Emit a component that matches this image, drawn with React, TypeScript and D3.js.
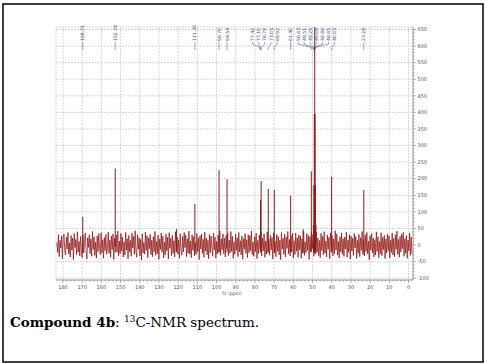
import React from "react";
import * as d3 from "d3";

// ---- data ----
const xTicks = d3.range(180, -1, -10);
const yTicks = d3.range(-100, 651, 50);

// peak positions (ppm) and intensities
const peakPpm = [169.71, 152.78, 120.9, 111.3, 98.7, 94.54, 77.1, 76.78, 73.05, 69.92, 61.4, 54.9, 50.63, 49.51, 49.29, 49.08, 48.86, 48.65, 48.43, 48.22, 40.05, 23.28];
const peakHeight = [85, 231, 48, 124, 226, 198, 136, 193, 169, 166, 149, 48, 222, 60, 180, 395, 690, 395, 180, 60, 206, 166];

// peak labels (ppm)
const labelValues = ["169.71", "152.78", "111.30", "98.70", "94.54", "77.42", "77.10", "76.78", "73.05", "69.92", "61.40", "50.63", "49.51", "49.29", "49.08", "48.86", "48.65", "40.05", "23.28"];

// baseline noise, evenly spread across the spectral width
const noise = [
  8, -22, 31, -35, 14, -9, 27, -41, 19, 33, -18, -30, 24, -12, 38, -27, 6, -36, 29, -15, 21, -44, 35, -8, 17, -29, 40, -21, 11, -33,
  26, -16, -38, 30, -24, 13, 36, -19, -42, 22, -7, 31, -26, 18, -34, 41, -13, 25, -31, 9, -39, 28, -20, 34, -11, -29, 37, -23, 16, -40,
  23, -17, 32, -28, -10, 39, -25, 15, -37, 27, -14, 33, -43, 20, -6, 30, -22, 42, -32, 12, -26, 35, -18, 24, -36, 10, -30, 38, -15, 19,
  -41, 29, -21, 14, -34, 36, -9, 26, -28, 43, -19, -37, 31, -12, 22, -33, 17, -45, 34, -24, 8, -27, 39, -16, 28, -38, 21, -11, 32, -29,
  15, -35, 25, -20, 41, -31, 11, -26, 30, -43, 18, -13, 36, -22, 27, -39, 9, -30, 33, -17, 23, -42, 37, -10, 20, -32, 29, -25, 13, -36,
  40, -19, 24, -28, 16, -40, 34, -14, -31, 26, -21, 38, -8, 30, -35, 19, -24, 42, -27, 12, -38, 31, -16, 25, -33, 7, -29, 35, -20, 22,
  -44, 28, -12, 33, -25, 17, -37, 39, -18, 21, -30, 14, -41, 32, -23, 27, -9, -34, 36, -15, 24, -39, 11, -27, 30, -22, 43, -31, 18, -14,
  34, -26, 20, -36, 29, -11, 37, -32, 15, -24, 41, -19, 26, -40, 10, -28, 33, -16, 22, -35, 38, -21, 13, -30, 27, -43, 19, -12, 35, -25,
  16, -38, 31, -23, 28, -17, 42, -29, 9, -34, 25, -20, 36, -41, 14, -26, 30, -13, 39, -33, 21, -18, 34, -37, 12, -27, 40, -22, 18, -31,
  29, -15, 23, -42, 37, -24, 11, -35, 32, -19, 26, -30, 15, -44, 38, -12, 20, -28, 33, -36, 24, -10, 41, -26, 17, -33, 28, -21, 35, -39,
  13, -29, 36, -18, 22, -37, 30, -14, 27, -40, 19, -25, 42, -31, 10, -23, 34, -16, 29, -43, 25, -20, 38, -11, 31, -34, 16, -27, 39, -22,
  21, -32, 14, -38, 35, -17, 26, -29, 40, -24, 12, -36, 30, -13, 23, -41, 37, -19, 28, -33, 18, -26, 43, -15, 33, -30, 11, -39, 25, -21,
  36, -28, 19, -34, 24, -12, 39, -37, 15, -22, 31, -42, 27, -18, 20, -31, 35, -9, 26, -40, 14, -25, 32, -35, 22, -16, 41, -29, 17, -33,
  30, -20, 38, -27, 12, -44, 28, -15, 34, -23, 21, -36, 16, -30, 40, -19, 25, -38, 11, -26, 37, -32, 23, -14, 29, -41, 18, -24, 33, -17,
  27, -39, 14, -22, 36, -30, 20, -35, 31, -13, 42, -28, 17, -37, 26, -21, 32, -11, 38, -34, 19, -25, 29, -40, 15, -18, 35, -31, 24, -27,
];
const noiseStartPpm = 183.2;
const noiseEndPpm = -1.8;

// ---- layout ----
const W = 487, H = 363;
const plot = { left: 56, top: 27, right: 413, bottom: 280 };

export default function App() {
  const x = d3.scaleLinear().domain([180, 0]).range([63, 408.5]);
  const y = d3.scaleLinear().domain([-100, 650]).range([278.2, 29.5]);

  const np = d3.scaleLinear().domain([0, noise.length - 1]).range([noiseStartPpm, noiseEndPpm]);
  const noiseLine = d3.line<number>().x((_, i) => x(np(i))).y((d) => y(d));

  // spread label positions
  const lx = labelValues.map((v) => x(parseFloat(v)));
  const pos = lx.slice();
  const gap = 6.1;
  for (let it = 0; it < 600; it++) {
    for (let i = 0; i < pos.length - 1; i++) {
      const d = pos[i + 1] - pos[i];
      if (d < gap) {
        const m = (gap - d) / 2;
        pos[i] -= m;
        pos[i + 1] += m;
      }
    }
  }

  const minorY = d3.range(-100, 651, 10);
  const minorX = d3.range(180, -1, -2);
  const grid = "#cdcdcd";
  const axisCol = "#7a7a7a";
  const txt = "#555";

  return (
    <svg width={W} height={H} style={{ position: "absolute", left: 0, top: 0, background: "#fff" }}>
      <rect x={0} y={0} width={W} height={H} fill="#fff" />
      <rect x={3} y={4} width={480} height={358} fill="none" stroke="#000" strokeWidth={1.5} />
      <defs>
        <clipPath id="pc">
          <rect x={plot.left} y={plot.top} width={plot.right - plot.left} height={plot.bottom - plot.top} />
        </clipPath>
      </defs>
      {/* grid */}
      <g stroke={grid} strokeWidth={0.8} strokeDasharray="2,1">
        {xTicks.map((t) => (
          <line key={"gx" + t} x1={x(t)} x2={x(t)} y1={plot.top} y2={plot.bottom} />
        ))}
        {yTicks.map((t) => (
          <line key={"gy" + t} x1={plot.left} x2={plot.right} y1={y(t)} y2={y(t)} />
        ))}
        <line x1={plot.left} x2={plot.left} y1={plot.top} y2={plot.bottom} />
        <line x1={plot.left} x2={plot.right} y1={plot.top} y2={plot.top} />
      </g>
      {/* spectrum */}
      <g clipPath="url(#pc)">
        <path d={noiseLine(noise) || ""} fill="none" stroke="#8b0a0a" strokeWidth={0.7} />
        {peakPpm.map((p, i) => (
          <line key={"p" + i} x1={x(p)} x2={x(p)} y1={y(-22)} y2={y(peakHeight[i])} stroke="#8e1b1b" strokeWidth={1} />
        ))}
      </g>
      {/* right axis */}
      <line x1={plot.right} x2={plot.right} y1={plot.top} y2={plot.bottom} stroke={axisCol} strokeWidth={0.8} />
      {minorY.map((t) => (
        <line key={"my" + t} x1={plot.right} x2={plot.right + (t % 50 === 0 ? 3 : 1.5)} y1={y(t)} y2={y(t)} stroke={axisCol} strokeWidth={0.6} />
      ))}
      {yTicks.map((t) => (
        <text key={"yl" + t} x={plot.right + 4.5} y={y(t)} dy="0.35em" fontSize={5} fontFamily="DejaVu Sans" fill={txt}>
          {t}
        </text>
      ))}
      {/* bottom axis */}
      <line x1={plot.left} x2={plot.right} y1={plot.bottom} y2={plot.bottom} stroke={axisCol} strokeWidth={0.8} />
      {minorX.map((t) => (
        <line key={"mx" + t} x1={x(t)} x2={x(t)} y1={plot.bottom} y2={plot.bottom + (t % 10 === 0 ? 3 : 1.5)} stroke={axisCol} strokeWidth={0.6} />
      ))}
      {xTicks.map((t) => (
        <text key={"xl" + t} x={x(t)} y={289} textAnchor="middle" fontSize={5} fontFamily="DejaVu Sans" fill={txt}>
          {t}
        </text>
      ))}
      <text x={232} y={294.5} textAnchor="middle" fontSize={4.5} fontFamily="DejaVu Sans" fill={txt}>
        f1 (ppm)
      </text>
      {/* peak labels */}
      {labelValues.map((v, i) => (
        <g key={"lb" + v + i}>
          <text
            transform={`translate(${pos[i] + 1.6},41) rotate(-90)`}
            fontSize={4.6}
            fontFamily="DejaVu Sans"
            fill="#3b4a86"
          >
            {v}
          </text>
          <path
            d={`M${pos[i]},42 L${pos[i]},44 L${lx[i]},47.5 L${lx[i]},50`}
            fill="none"
            stroke="#3b4a86"
            strokeWidth={0.5}
          />
        </g>
      ))}
      {/* caption */}
      <text x={10} y={327} fontSize={13.5} fontFamily="DejaVu Serif" fill="#000">
        <tspan fontWeight="bold">Compound 4b</tspan>
        <tspan>: </tspan>
        <tspan fontSize={9} dy={-5}>13</tspan>
        <tspan dy={5}>C-NMR spectrum.</tspan>
      </text>
    </svg>
  );
}
